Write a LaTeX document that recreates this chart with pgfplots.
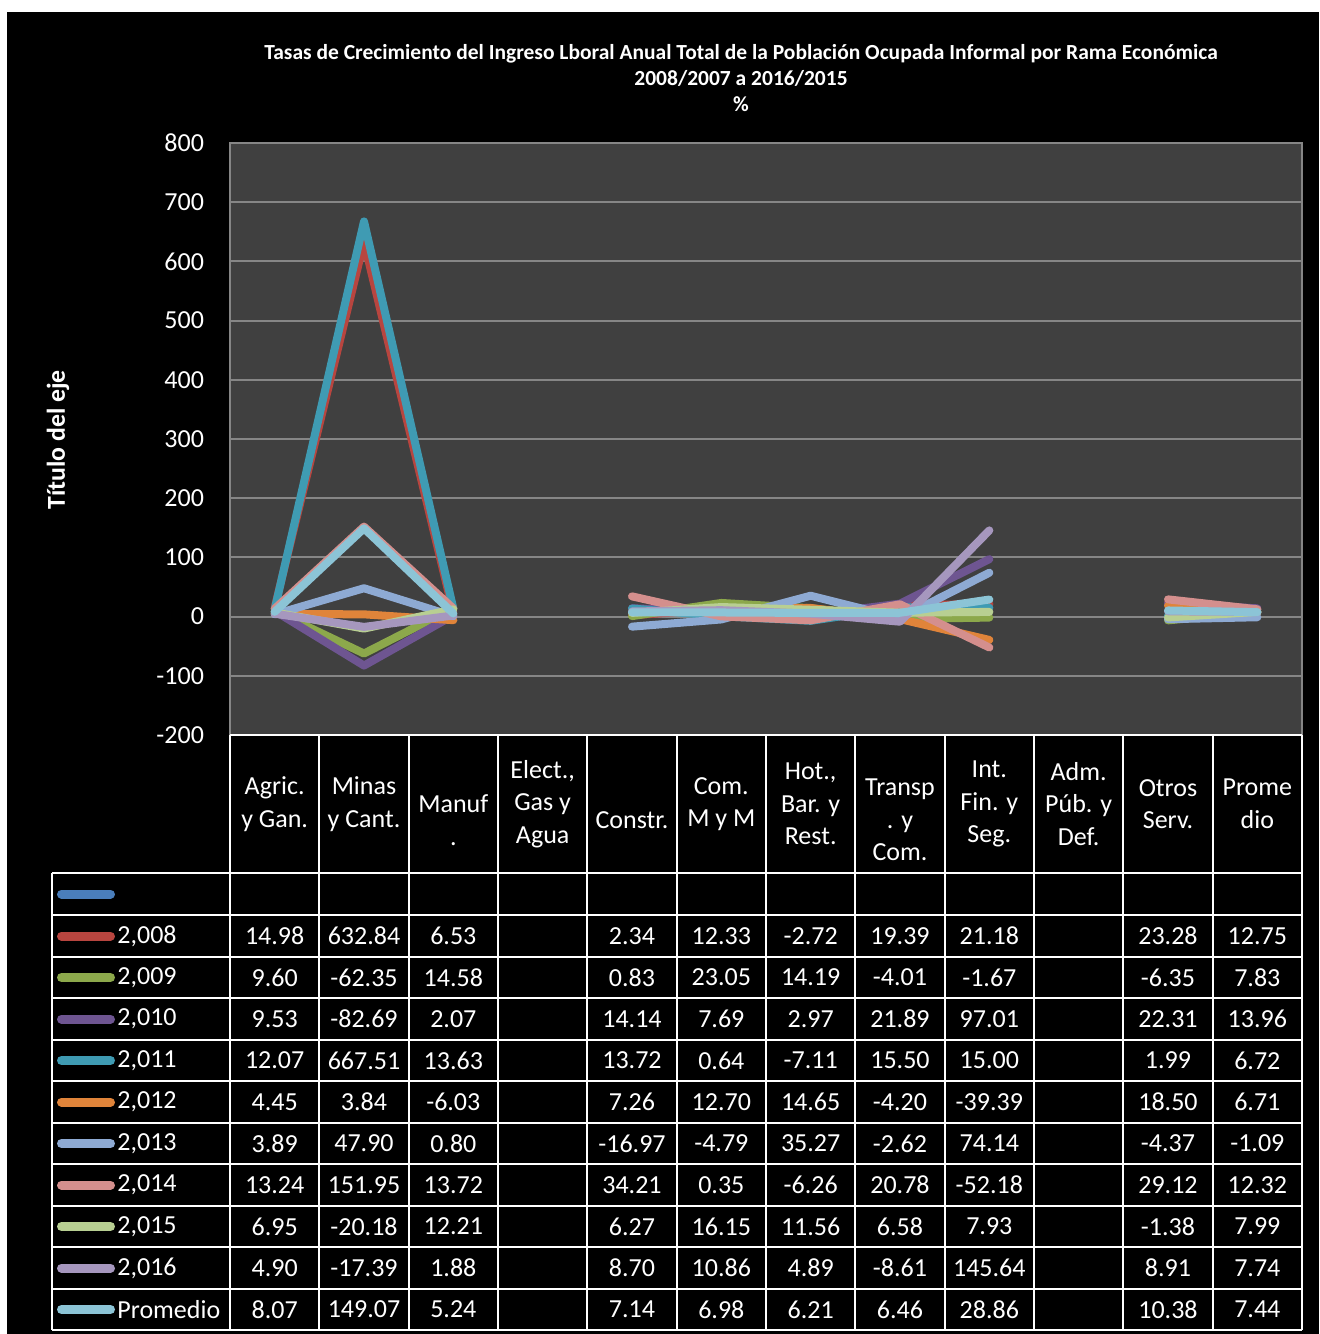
\documentclass[border=0pt]{standalone}
\usepackage{pgfplots}
\pgfplotsset{compat=1.18}
\usepackage{pgfplotstable}
\usepackage{fontspec}
\setmainfont{Carlito}

\definecolor{cblue}{HTML}{4A7EBB}
\definecolor{c08}{HTML}{B8453F}
\definecolor{c09}{HTML}{8CA84B}
\definecolor{c10}{HTML}{6E5591}
\definecolor{c11}{HTML}{3F9BB3}
\definecolor{c12}{HTML}{E0843A}
\definecolor{c13}{HTML}{8EAAD3}
\definecolor{c14}{HTML}{D48F8D}
\definecolor{c15}{HTML}{B8CF92}
\definecolor{c16}{HTML}{A697BE}
\definecolor{cprom}{HTML}{8CC4D6}
\definecolor{plotbg}{HTML}{404040}
\definecolor{gridgray}{HTML}{868686}

\pgfplotstableread{
x    y08     y09     y10     y11     y12     y13     y14     y15     y16     prom
0.5  14.98   9.60    9.53    12.07   4.45    3.89    13.24   6.95    4.90    8.07
1.5  632.84  -62.35  -82.69  667.51  3.84    47.90   151.95  -20.18  -17.39  149.07
2.5  6.53    14.58   2.07    13.63   -6.03   0.80    13.72   12.21   1.88    5.24
3.5  nan     nan     nan     nan     nan     nan     nan     nan     nan     nan
4.5  2.34    0.83    14.14   13.72   7.26    -16.97  34.21   6.27    8.70    7.14
5.5  12.33   23.05   7.69    0.64    12.70   -4.79   0.35    16.15   10.86   6.98
6.5  -2.72   14.19   2.97    -7.11   14.65   35.27   -6.26   11.56   4.89    6.21
7.5  19.39   -4.01   21.89   15.50   -4.20   -2.62   20.78   6.58    -8.61   6.46
8.5  21.18   -1.67   97.01   15.00   -39.39  74.14   -52.18  7.93    145.64  28.86
9.5  nan     nan     nan     nan     nan     nan     nan     nan     nan     nan
10.5 23.28   -6.35   22.31   1.99    18.50   -4.37   29.12   -1.38   8.91    10.38
11.5 12.75   7.83    13.96   6.72    6.71    -1.09   12.32   7.99    7.74    7.44
}\datatable

\newcommand\tabfont{\fontsize{13}{16.3}\selectfont}
\newcommand\tabrow[4]{%
  \draw[line width=4.5pt, line cap=round, #2] (61.5,#1) -- (110.5,#1);
  \node[anchor=west, text=white, font=\tabfont, inner sep=0pt] at (117,#1) {#3};
  \foreach \v [count=\i] in {#4} {
    \node[text=white, font=\tabfont, inner sep=0pt] at ({230+89.3333*(\i-0.5)},#1) {\v};
  }%
}

\begin{document}
\begin{tikzpicture}[x=0.5pt, y=-0.5pt]
\fill[white] (0,0) rectangle (1319,1334);
\fill[black] (7,12) rectangle (1319,1334);

% title
\node[text=white, font=\bfseries\fontsize{10.75}{13}\selectfont, align=center] at (741,78)
  {Tasas de Crecimiento del Ingreso Lboral Anual Total de la Población Ocupada Informal por Rama Económica\\2008/2007 a 2016/2015\\\%};
\node[text=white, font=\bfseries\fontsize{12.9}{14}\selectfont, rotate=90] at (58,440) {Título del eje};

\coordinate (axsw) at (230,735);
\begin{axis}[
  at={(axsw)}, anchor=south west, scale only axis,
  width=536pt, height=296pt,
  xmin=0, xmax=12, ymin=-200, ymax=800,
  ytick={-200,-100,...,800}, xtick=\empty,
  ymajorgrids, grid style={draw=gridgray, line width=1pt},
  axis line style={draw=gridgray, line width=1pt},
  axis background/.style={fill=plotbg},
  major tick length=0pt,
  yticklabel style={text=white, font=\fontsize{13}{15}\selectfont, xshift=-9.5pt},
  /pgf/number format/assume math mode=true,
  unbounded coords=jump,
  every axis plot/.append style={line width=4pt, line cap=round, line join=round, mark=none},
]
\addplot[c08] table[x=x, y=y08] {\datatable};
\addplot[c09] table[x=x, y=y09] {\datatable};
\addplot[c10] table[x=x, y=y10] {\datatable};
\addplot[c11] table[x=x, y=y11] {\datatable};
\addplot[c12] table[x=x, y=y12] {\datatable};
\addplot[c13] table[x=x, y=y13] {\datatable};
\addplot[c14] table[x=x, y=y14] {\datatable};
\addplot[c15] table[x=x, y=y15] {\datatable};
\addplot[c16] table[x=x, y=y16] {\datatable};
\addplot[cprom] table[x=x, y=prom] {\datatable};
\end{axis}

% table grid
\begin{scope}[draw=white, line width=1pt]
\draw (230,735) -- (1302,735);
\foreach \yy in {873,915,956.5,998,1039.5,1081,1122.5,1164,1205.5,1247,1288.5,1330}
  \draw (52,\yy) -- (1302,\yy);
\draw (52,873) -- (52,1330);
\foreach \k in {0,...,12}
  \draw ({230+89.3333*\k},735) -- ({230+89.3333*\k},1330);
\end{scope}

% header
\foreach \t/\yc [count=\i] in {{Agric.\\y Gan.}/804,{Minas\\y Cant.}/804,{Manuf\\.}/820,{Elect.,\\Gas y\\Agua}/804,{Constr.}/820,{Com.\\M y M}/804,{Hot.,\\Bar. y\\Rest.}/804,{Transp\\. y\\Com.}/820,{Int.\\Fin. y\\Seg.}/804,{Adm.\\Púb. y\\Def.}/804,{Otros\\Serv.}/804,{Prome\\dio}/804} {
  \node[text=white, font=\tabfont, align=center, inner sep=0pt] at ({230+89.3333*(\i-0.5)},\yc) {\t};
}

\draw[line width=4.5pt, line cap=round, cblue] (61.5,894) -- (110.5,894);
\tabrow{936}{c08}{2,008}{14.98,632.84,6.53,{},2.34,12.33,-2.72,19.39,21.18,{},23.28,12.75}
\tabrow{977.5}{c09}{2,009}{9.60,-62.35,14.58,{},0.83,23.05,14.19,-4.01,-1.67,{},-6.35,7.83}
\tabrow{1019}{c10}{2,010}{9.53,-82.69,2.07,{},14.14,7.69,2.97,21.89,97.01,{},22.31,13.96}
\tabrow{1060.5}{c11}{2,011}{12.07,667.51,13.63,{},13.72,0.64,-7.11,15.50,15.00,{},1.99,6.72}
\tabrow{1102}{c12}{2,012}{4.45,3.84,-6.03,{},7.26,12.70,14.65,-4.20,-39.39,{},18.50,6.71}
\tabrow{1143.5}{c13}{2,013}{3.89,47.90,0.80,{},-16.97,-4.79,35.27,-2.62,74.14,{},-4.37,-1.09}
\tabrow{1185}{c14}{2,014}{13.24,151.95,13.72,{},34.21,0.35,-6.26,20.78,-52.18,{},29.12,12.32}
\tabrow{1226.5}{c15}{2,015}{6.95,-20.18,12.21,{},6.27,16.15,11.56,6.58,7.93,{},-1.38,7.99}
\tabrow{1268}{c16}{2,016}{4.90,-17.39,1.88,{},8.70,10.86,4.89,-8.61,145.64,{},8.91,7.74}
\tabrow{1309.5}{cprom}{Promedio}{8.07,149.07,5.24,{},7.14,6.98,6.21,6.46,28.86,{},10.38,7.44}
\end{tikzpicture}
\end{document}
